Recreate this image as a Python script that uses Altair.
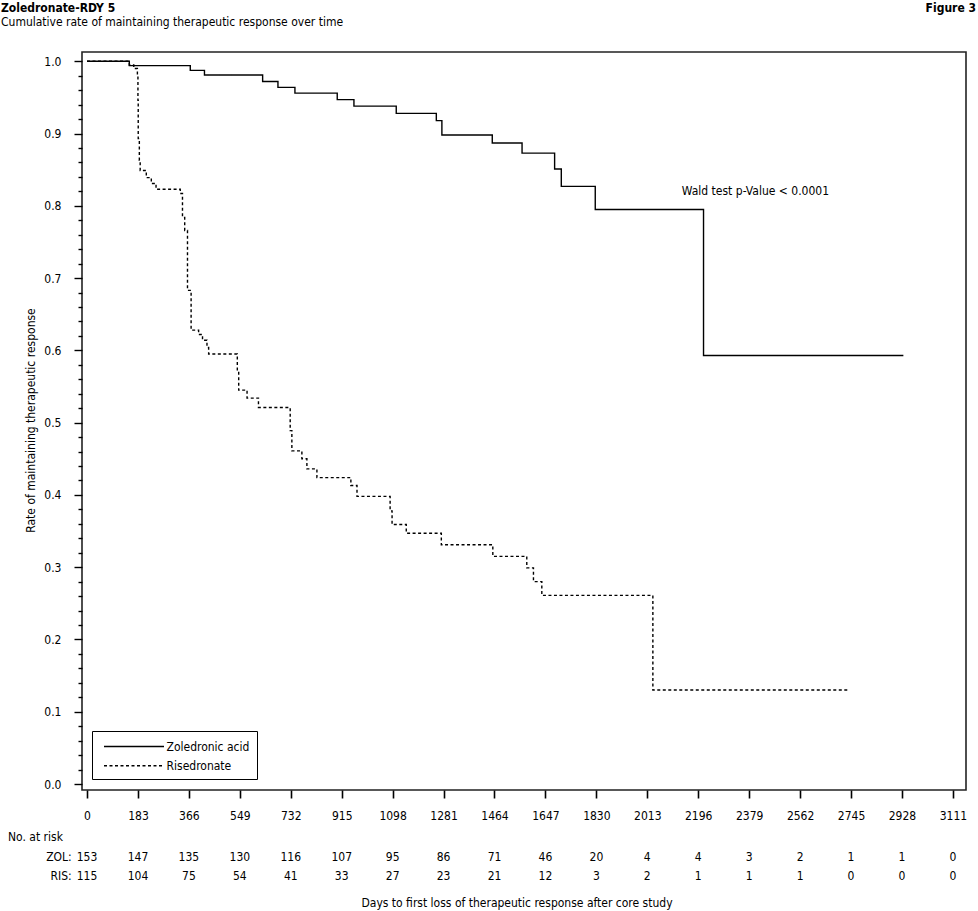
import altair as alt
import pandas as pd

FONT = "Liberation Sans Narrow, DejaVu Sans Condensed, Arial Narrow, sans-serif"

# Kaplan-Meier step points (day, cumulative rate)
zol_days = [0, 152, 371, 422, 631, 686, 747, 899, 959, 1111, 1255, 1275, 1456, 1563, 1680, 1704, 1826, 2215, 2933]
zol_rate = [1.0, 0.994, 0.9875, 0.981, 0.972, 0.964, 0.956, 0.947, 0.938, 0.928, 0.918, 0.898, 0.887, 0.873, 0.851, 0.827, 0.795, 0.593, 0.593]

ris_days = [0, 152, 168, 181, 183, 184, 188, 191, 213, 231, 248,
            335, 343, 351, 361, 374, 401, 415, 431, 437,
            540, 545, 575, 616,
            730, 736, 772, 790, 826,
            948, 970,
            1089, 1096, 1147,
            1273, 1458,
            1580, 1604, 1634,
            2033, 2735]
ris_rate = [1.0, 0.995, 0.990, 0.981, 0.946, 0.893, 0.863, 0.849, 0.839, 0.831, 0.823,
            0.817, 0.784, 0.766, 0.683, 0.628, 0.622, 0.614, 0.604, 0.595,
            0.572, 0.545, 0.534, 0.521,
            0.489, 0.461, 0.450, 0.436, 0.424,
            0.413, 0.398,
            0.378, 0.359, 0.347,
            0.331, 0.315,
            0.299, 0.280, 0.261,
            0.130, 0.130]

groups = ["Zoledronic acid", "Risedronate"]

tick_days = [0, 183, 366, 549, 732, 915, 1098, 1281, 1464, 1647, 1830, 2013, 2196, 2379, 2562, 2745, 2928, 3111]
zol_risk = [153, 147, 135, 130, 116, 107, 95, 86, 71, 46, 20, 4, 4, 3, 2, 1, 1, 0]
ris_risk = [115, 104, 75, 54, 41, 33, 27, 23, 21, 12, 3, 2, 1, 1, 1, 0, 0, 0]

y_tick_values = [round(i * 0.02, 2) for i in range(51)]

curve_df = pd.concat([
    pd.DataFrame({"day": zol_days, "rate": zol_rate, "group": groups[0]}),
    pd.DataFrame({"day": ris_days, "rate": ris_rate, "group": groups[1]}),
], ignore_index=True)

risk_df = pd.DataFrame({"day": tick_days, "zol": zol_risk, "ris": ris_risk})

xscale = alt.Scale(domain=[-18, 3158], nice=False, zero=False)
yscale = alt.Scale(domain=[-0.0083, 1.0129], nice=False, zero=False)

major_test = "abs(datum.value * 10 - round(datum.value * 10)) < 0.001"

xaxis = alt.Axis(
    values=tick_days, format="d", domain=False, grid=False,
    tickSize=8, tickWidth=1.6, tickColor="black",
    labelFontSize=12, labelColor="black", labelPadding=12, labelOverlap=False,
    labelFont=FONT,
    title="Days to first loss of therapeutic response after core study",
    titleFont=FONT, titleFontSize=12, titleFontWeight="normal", titleColor="black",
    titleX=434.5, titleY=112.7, titleAlign="center", titleBaseline="middle",
)
yaxis = alt.Axis(
    values=y_tick_values, domain=False, grid=False,
    tickSize={"condition": {"test": major_test, "value": 8}, "value": 4},
    tickWidth=1.4, tickColor="black",
    labelExpr=major_test + " ? format(datum.value, '.1f') : ''",
    labelFontSize=12, labelColor="black", labelPadding=13, labelOverlap=False,
    labelFont=FONT,
    title="Rate of maintaining therapeutic response",
    titleFont=FONT, titleFontSize=12, titleFontWeight="normal", titleColor="black",
    titleX=-52, titleY=368, titleAngle=270, titleAlign="center", titleBaseline="middle",
)

lines = alt.Chart(curve_df).mark_line(
    interpolate="step-after", color="black", strokeWidth=1.4
).encode(
    x=alt.X("day:Q", scale=xscale, axis=xaxis),
    y=alt.Y("rate:Q", scale=yscale, axis=yaxis),
    strokeDash=alt.StrokeDash("group:N", scale=alt.Scale(domain=groups, range=[[1, 0], [3, 2.5]]),
        legend=alt.Legend(
            orient="none", legendX=10, legendY=679, title=None,
            symbolType="M-4,0H4", symbolSize=225, symbolStrokeWidth=1.4,
            symbolStrokeColor="black", symbolOffset=26.5,
            labelFont=FONT, labelFontSize=12, labelColor="black", labelOffset=24,
            strokeColor="black", fillColor="white", padding=7, rowPadding=4.3,
        )),
)

annot = alt.Chart(pd.DataFrame({"day": [2137], "rate": [0.82], "t": ["Wald test p-Value < 0.0001"]})).mark_text(
    align="left", baseline="middle", fontSize=12, font=FONT, color="black"
).encode(
    x=alt.X("day:Q", scale=xscale, axis=xaxis),
    y=alt.Y("rate:Q", scale=yscale, axis=yaxis),
    text="t:N",
)

zol_txt = alt.Chart(risk_df).mark_text(
    align="center", baseline="middle", fontSize=12, font=FONT, color="black"
).encode(
    x=alt.X("day:Q", scale=xscale, axis=xaxis),
    y=alt.value(804.7),
    text="zol:Q",
)

ris_txt = alt.Chart(risk_df).mark_text(
    align="center", baseline="middle", fontSize=12, font=FONT, color="black"
).encode(
    x=alt.X("day:Q", scale=xscale, axis=xaxis),
    y=alt.value(823.7),
    text="ris:Q",
)


def label(txt, x, y, align="left", weight="normal"):
    return alt.Chart(pd.DataFrame({"t": [txt]})).mark_text(
        align=align, baseline="middle", fontSize=12, font=FONT, color="black", fontWeight=weight
    ).encode(x=alt.value(x), y=alt.value(y), text="t:N")


labels = [
    label("No. at risk", -74, 784.7),
    label("ZOL:", -10.3, 804.7, align="right"),
    label("RIS:", -10.3, 823.7, align="right"),
    label("Zoledronate-RDY 5", -81, -43.7, weight="bold"),
    label("Cumulative rate of maintaining therapeutic response over time", -81, -30.3),
    label("Figure 3", 894, -43.7, align="right", weight="bold"),
]

chart = alt.layer(lines, annot, zol_txt, ris_txt, *labels).properties(
    width=884, height=738,
    autosize=alt.AutoSizeParams(type="none"),
    padding={"left": 82, "top": 52, "right": 12, "bottom": 121},
).configure(font=FONT).configure_view(stroke="#222", strokeWidth=1.6)

chart.save("out.html", embed_options={"renderer": "svg", "actions": False})
